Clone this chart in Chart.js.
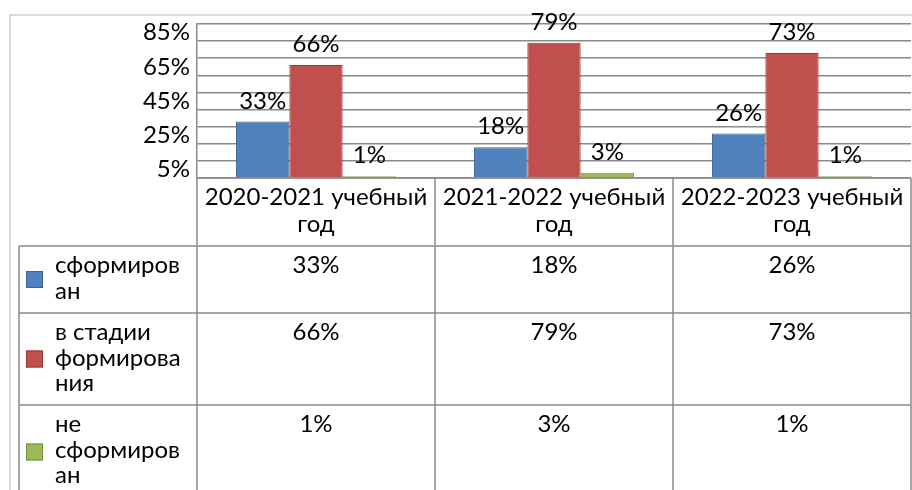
<!DOCTYPE html>
<html>
<head>
<meta charset="utf-8">
<script src="https://cdn.jsdelivr.net/npm/chart.js@4.4.1/dist/chart.umd.min.js"></script>
<style>
  body { margin: 0; background: #fff; }
  canvas { display: block; }
</style>
</head>
<body>
<canvas id="myChart" width="912" height="490"></canvas>
<script>
// data
var categories = ['2020-2021 учебный год', '2021-2022 учебный год', '2022-2023 учебный год'];
var seriesNames = ['сформирован', 'в стадии формирования', 'не сформирован'];
var formed = [33, 18, 26];
var forming = [66, 79, 73];
var notFormed = [1, 3, 1];
var yTickLabels = [5, 25, 45, 65, 85];

var FONT = "Lato, 'Open Sans', sans-serif";
var FSIZE = 24;
var fills = ['#4f81bd', '#c0504d', '#9bbb59'];
var borders = ['#3a6393', '#953735', '#76923c'];
var lineGray = '#8a8a8a';

// table rows below the plot: header, then one per series
var headerH = 68;
var rowH = [67, 92, 94];
var tableLeft = 19;

function wrapText(ctx, text, maxW) {
    var words = text.split(' ');
    var lines = [];
    var cur = '';
    for (var i = 0; i < words.length; i++) {
        var w = words[i];
        var test = cur ? cur + ' ' + w : w;
        if (ctx.measureText(test).width <= maxW) {
            cur = test;
            continue;
        }
        if (cur) { lines.push(cur); cur = ''; }
        // word too long on its own -> break by letters
        while (ctx.measureText(w).width > maxW) {
            var k = w.length;
            while (k > 1 && ctx.measureText(w.slice(0, k)).width > maxW) k--;
            lines.push(w.slice(0, k));
            w = w.slice(k);
        }
        cur = w;
    }
    if (cur) lines.push(cur);
    return lines;
}

var framePlugin = {
    id: 'frame',
    beforeDraw: function(chart) {
        var c = chart.ctx;
        c.save();
        c.fillStyle = '#fff';
        c.fillRect(0, 0, chart.width, chart.height);
        c.strokeStyle = '#d9d9d9';
        c.lineWidth = 2;
        c.strokeRect(10, 15, chart.width + 20, chart.height + 20);
        c.restore();
    }
};

var valueLabels = {
    id: 'valueLabels',
    afterDatasetsDraw: function(chart) {
        var c = chart.ctx;
        c.save();
        c.font = FSIZE + 'px ' + FONT;
        c.fillStyle = '#000';
        c.textAlign = 'center';
        c.textBaseline = 'alphabetic';
        chart.data.datasets.forEach(function(ds, di) {
            chart.getDatasetMeta(di).data.forEach(function(bar, i) {
                c.fillText(ds.data[i] + '%', bar.x, bar.y - 13);
            });
        });
        c.restore();
    }
};

var dataTable = {
    id: 'dataTable',
    afterDraw: function(chart) {
        var c = chart.ctx;
        var area = chart.chartArea;
        var x = chart.scales.x;
        var n = chart.data.labels.length;
        var colW = (area.right - area.left) / n;
        var top = area.bottom;
        var rowsTop = top + headerH;
        var bottom = rowsTop + rowH.reduce(function(a, b) { return a + b; }, 0);

        c.save();
        c.strokeStyle = lineGray;
        c.lineWidth = 1.5;
        c.beginPath();
        // header top + vertical lines
        c.moveTo(area.left, top); c.lineTo(area.right, top);
        for (var i = 0; i <= n; i++) {
            var vx = area.left + i * colW;
            c.moveTo(vx, top); c.lineTo(vx, bottom);
        }
        // row lines
        var y = rowsTop;
        c.moveTo(tableLeft, y); c.lineTo(area.right, y);
        for (var r = 0; r < rowH.length; r++) {
            y += rowH[r];
            c.moveTo(tableLeft, y); c.lineTo(area.right, y);
        }
        c.moveTo(tableLeft, rowsTop); c.lineTo(tableLeft, bottom);
        c.stroke();

        c.font = FSIZE + 'px ' + FONT;
        c.fillStyle = '#000';
        c.textBaseline = 'alphabetic';

        // header: category names
        c.textAlign = 'center';
        chart.data.labels.forEach(function(lab, i) {
            var cx = x.getPixelForValue(i);
            var lines = wrapText(c, lab, colW - 8);
            lines.forEach(function(ln, k) {
                c.fillText(ln, cx, top + 27 + k * 27);
            });
        });

        // series rows
        var ry = rowsTop;
        chart.data.datasets.forEach(function(ds, di) {
            var h = rowH[di];
            // legend key
            c.fillStyle = fills[di];
            c.fillRect(26, ry + h / 2 - 8.5, 17, 17);
            c.strokeStyle = borders[di];
            c.lineWidth = 1;
            c.strokeRect(26.5, ry + h / 2 - 8, 16, 16);
            // name
            c.fillStyle = '#000';
            c.textAlign = 'left';
            var lines = wrapText(c, ds.label, 133);
            lines.forEach(function(ln, k) {
                c.fillText(ln, 55, ry + 27 + k * 25.5);
            });
            // values
            c.textAlign = 'center';
            ds.data.forEach(function(v, i) {
                c.fillText(v + '%', x.getPixelForValue(i), ry + 27);
            });
            ry += h;
        });
        c.restore();
    }
};

var ctx = document.getElementById('myChart').getContext('2d');
var myChart = new Chart(ctx, {
    type: 'bar',
    data: {
        labels: categories,
        datasets: [
            { label: seriesNames[0], data: formed, backgroundColor: fills[0], borderColor: borders[0], borderWidth: 1 },
            { label: seriesNames[1], data: forming, backgroundColor: fills[1], borderColor: borders[1], borderWidth: 1 },
            { label: seriesNames[2], data: notFormed, backgroundColor: fills[2], borderColor: borders[2], borderWidth: 1 }
        ]
    },
    options: {
        responsive: false,
        animation: false,
        layout: { padding: { top: 24, bottom: 312, left: 0, right: 1 } },
        datasets: { bar: { barPercentage: 1, categoryPercentage: 0.672 } },
        plugins: {
            legend: { display: false },
            tooltip: { enabled: false }
        },
        scales: {
            x: { display: false },
            y: {
                min: 0,
                max: 90,
                afterBuildTicks: function(scale) {
                    var t = [];
                    for (var v = 0; v <= 90; v += 5) t.push({ value: v });
                    scale.ticks = t;
                },
                afterFit: function(scale) { scale.width = 197; },
                grid: {
                    drawTicks: false,
                    lineWidth: 1.5,
                    color: function(c) { return c.tick && c.tick.value % 10 === 0 ? lineGray : 'rgba(0,0,0,0)'; }
                },
                border: { color: lineGray, width: 1.5 },
                ticks: {
                    autoSkip: false,
                    padding: 7,
                    color: '#000',
                    font: { family: FONT, size: FSIZE },
                    callback: function(v) { return yTickLabels.indexOf(v) >= 0 ? v + '%' : ''; }
                }
            }
        }
    },
    plugins: [framePlugin, valueLabels, dataTable]
});
</script>
</body>
</html>
